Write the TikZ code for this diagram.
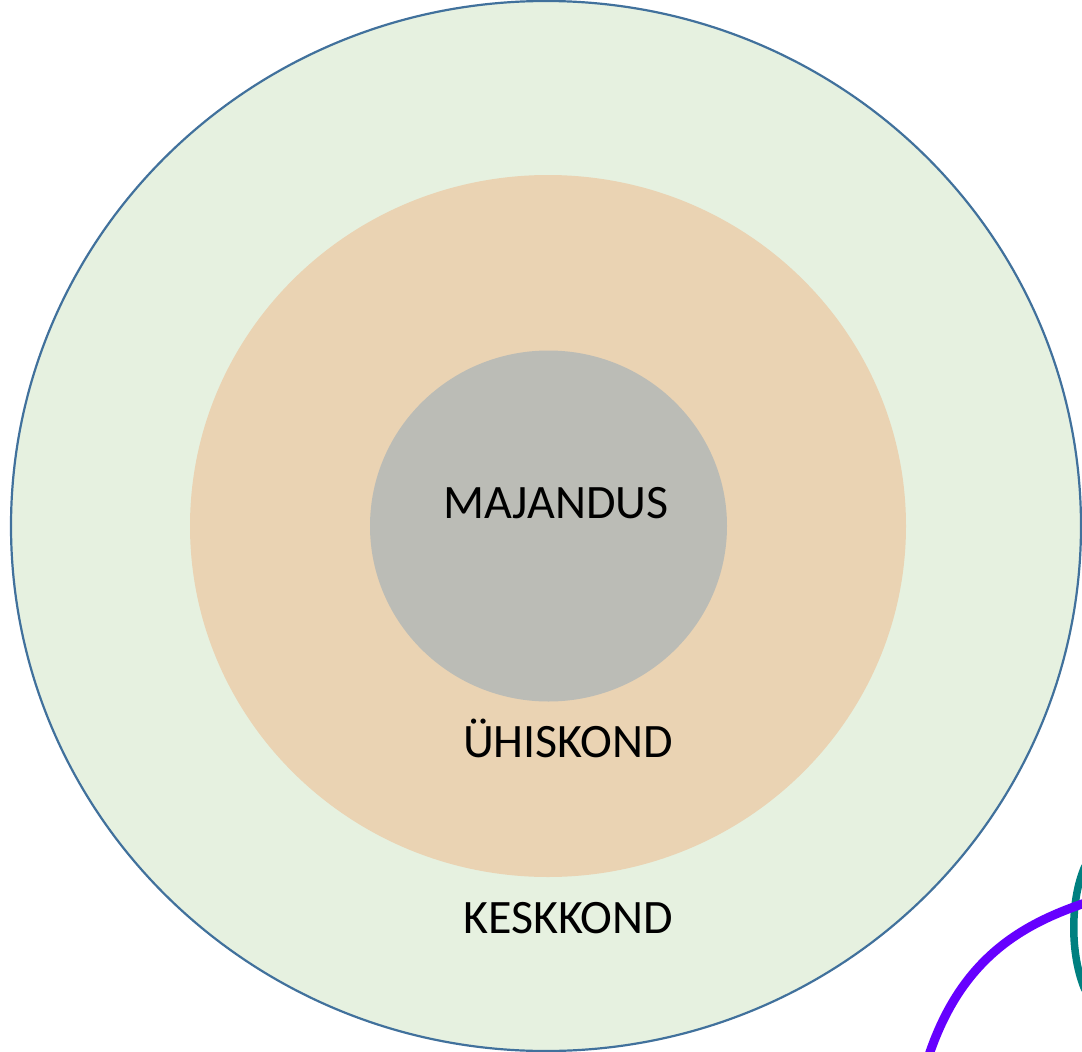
\documentclass[tikz,border=0pt]{standalone}
\usepackage{fontspec}
\setmainfont{Carlito}
\definecolor{keskfill}{RGB}{230,241,224}
\definecolor{keskline}{RGB}{65,113,156}
\definecolor{uhisfill}{RGB}{234,211,179}
\definecolor{majfill}{RGB}{187,188,182}
\definecolor{lilla}{RGB}{102,0,255}
\definecolor{sinine}{RGB}{0,128,128}

\begin{document}
\begin{tikzpicture}[x=1pt, y=-1pt,
  silt/.style={anchor=base, font=\fontsize{48}{58}\selectfont}]
\useasboundingbox (0,0) rectangle (1082,1052);
\clip (0,0) rectangle (1082,1052);
\draw[keskline, fill=keskfill, line width=2.2pt] (546,526) ellipse [x radius=535, y radius=525];
\fill[uhisfill] (548,526) ellipse [x radius=358, y radius=351];
\fill[majfill] (548.5,526) ellipse [x radius=178.5, y radius=175.5];
\node[silt] (majandus) at (556,518) {MAJANDUS};
\node[silt] (uhiskond) at (568,757) {ÜHISKOND};
\node[silt] (keskkond) at (568,933) {KESKKOND};
\draw[sinine, line width=7.5pt] (1085,866) .. controls (1070,900) and (1070,955) .. (1085,990);
\draw[lilla, line width=9pt] (928,1058) .. controls (960,960) and (1020,925) .. (1085,903);
\end{tikzpicture}
\end{document}
